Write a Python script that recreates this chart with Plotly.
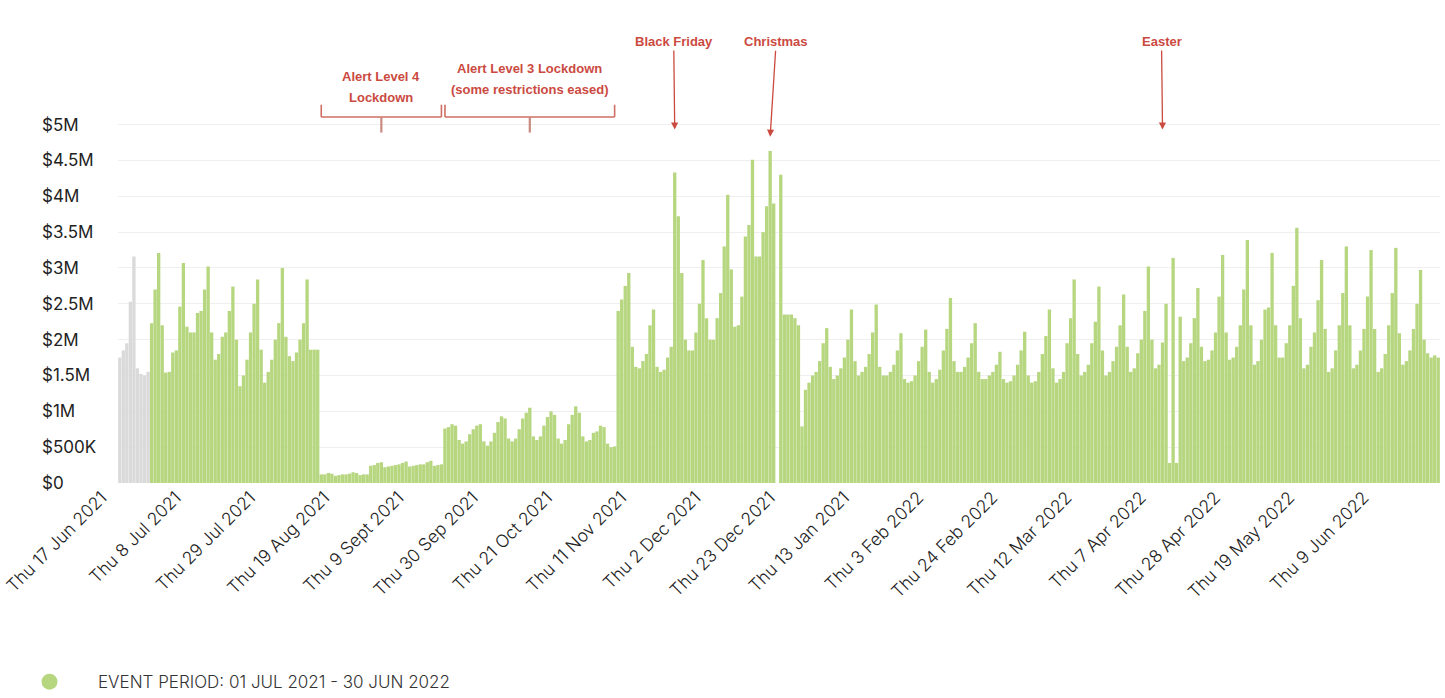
import pandas as pd
import plotly.graph_objects as go

# ---------------- data (daily sales, $M) ----------------
pre_period_values = [1.75, 1.85, 1.95, 2.53, 3.16, 1.60, 1.52, 1.50, 1.55]  # 22-30 Jun 2021

jul_2021 = [2.23, 2.70, 3.21, 2.20, 1.54, 1.55, 1.82,
            1.85, 2.46, 3.07, 2.18, 2.10, 2.10, 2.37,
            2.40, 2.70, 3.02, 2.10, 1.72, 1.80, 2.04,
            2.10, 2.40, 2.74, 2.00, 1.35, 1.50, 1.72,
            2.10, 2.50, 2.84]
aug_2021 = [1.86, 1.40, 1.55, 1.72,
            2.00, 2.23, 3.00, 2.04, 1.77, 1.70, 1.82,
            2.00, 2.23, 2.84, 1.86, 1.86, 1.86, 0.12,
            0.12, 0.14, 0.13, 0.10, 0.11, 0.12, 0.12,
            0.13, 0.15, 0.14, 0.11, 0.12, 0.12]
sep_2021 = [0.24,
            0.25, 0.28, 0.29, 0.22, 0.23, 0.24, 0.25,
            0.26, 0.28, 0.30, 0.23, 0.24, 0.25, 0.26,
            0.26, 0.29, 0.31, 0.24, 0.25, 0.26, 0.76,
            0.78, 0.82, 0.80, 0.60, 0.55, 0.58, 0.68,
            0.75]
oct_2021 = [0.80, 0.82, 0.58, 0.52, 0.58, 0.70,
            0.85, 0.93, 0.90, 0.62, 0.58, 0.62, 0.75,
            0.90, 0.98, 1.05, 0.65, 0.60, 0.65, 0.80,
            0.92, 1.00, 0.95, 0.62, 0.55, 0.60, 0.82,
            0.95, 1.07, 0.98, 0.65]
nov_2021 = [0.58, 0.60, 0.70,
            0.72, 0.80, 0.78, 0.55, 0.50, 0.51, 2.40,
            2.56, 2.75, 2.93, 1.90, 1.62, 1.60, 1.70,
            1.80, 2.20, 2.42, 1.62, 1.55, 1.58, 1.75,
            1.90, 4.33, 3.72, 2.93, 2.00, 1.85]
dec_2021 = [1.85,
            2.10, 2.50, 3.11, 2.30, 2.00, 2.00, 2.30,
            2.65, 3.30, 4.02, 2.98, 2.18, 2.20, 2.60,
            3.44, 3.60, 4.51, 3.16, 3.16, 3.50, 3.86,
            4.63, 3.90, 0.00, 4.30, 2.35, 2.35, 2.35,
            2.30, 2.20]
jan_2022 = [0.79, 1.30, 1.40, 1.50, 1.55,
            1.70, 1.95, 2.16, 1.62, 1.45, 1.50, 1.60,
            1.75, 2.00, 2.42, 1.70, 1.50, 1.55, 1.62,
            1.80, 2.10, 2.49, 1.62, 1.50, 1.50, 1.55,
            1.65, 1.85, 2.09, 1.45, 1.40]
feb_2022 = [1.42, 1.50,
            1.70, 1.90, 2.14, 1.55, 1.40, 1.45, 1.58,
            1.85, 2.15, 2.58, 1.70, 1.55, 1.55, 1.62,
            1.75, 1.95, 2.23, 1.55, 1.45, 1.45, 1.50,
            1.55, 1.65, 1.83, 1.45, 1.40]
mar_2022 = [1.42, 1.50,
            1.65, 1.85, 2.11, 1.50, 1.40, 1.42, 1.55,
            1.80, 2.05, 2.42, 1.60, 1.40, 1.45, 1.55,
            1.95, 2.30, 2.84, 1.80, 1.50, 1.55, 1.65,
            1.95, 2.25, 2.74, 1.85, 1.50, 1.55, 1.70,
            1.90]
apr_2022 = [2.20, 2.63, 1.90, 1.55, 1.60, 1.81,
            2.00, 2.40, 3.02, 2.00, 1.60, 1.65, 1.96,
            2.50, 0.28, 3.14, 0.28, 2.32, 1.70, 1.75,
            1.95, 2.30, 2.72, 1.90, 1.70, 1.72, 1.85,
            2.10, 2.60, 3.18]
may_2022 = [2.10, 1.72, 1.75, 1.90,
            2.20, 2.70, 3.39, 2.20, 1.65, 1.70, 2.00,
            2.42, 2.45, 3.21, 2.20, 1.75, 1.75, 1.95,
            2.20, 2.75, 3.56, 2.30, 1.60, 1.65, 1.90,
            2.10, 2.55, 3.11, 2.15, 1.55, 1.60]
jun_2022 = [1.85,
            2.20, 2.65, 3.30, 2.20, 1.60, 1.65, 1.85,
            2.15, 2.60, 3.25, 2.15, 1.55, 1.60, 1.80,
            2.20, 2.65, 3.28, 2.09, 1.65, 1.70, 1.85,
            2.15, 2.50, 2.97, 2.00, 1.81, 1.75, 1.78,
            1.75]

tick_labels = ["Thu 17 Jun 2021", "Thu 8 Jul 2021", "Thu 29 Jul 2021", "Thu 19 Aug 2021",
               "Thu 9 Sept 2021", "Thu 30 Sep 2021", "Thu 21 Oct 2021", "Thu 11 Nov 2021",
               "Thu 2 Dec 2021", "Thu 23 Dec 2021", "Thu 13 Jan 2021", "Thu 3 Feb 2022",
               "Thu 24 Feb 2022", "Thu 12 Mar 2022", "Thu 7 Apr 2022", "Thu 28 Apr 2022",
               "Thu 19 May 2022", "Thu 9 Jun 2022"]
y_tick_values = [0, 500000, 1000000, 1500000, 2000000, 2500000, 3000000, 3500000, 4000000, 4500000, 5000000]
y_tick_labels = ["$0", "$500K", "$1M", "$1.5M", "$2M", "$2.5M", "$3M", "$3.5M", "$4M", "$4.5M", "$5M"]

event_names = ["Black Friday", "Christmas", "Easter"]
event_days = ["2021-11-26", "2021-12-23", "2022-04-13"]
event_tips = [4.93e6, 4.83e6, 4.93e6]

lockdown_lines = [["Alert Level 4", "Lockdown"], ["Alert Level 3 Lockdown", "(some restrictions eased)"]]
lockdown_starts = ["2021-08-18", "2021-09-22"]
lockdown_ends = ["2021-09-21", "2021-11-09"]

legend_label = "EVENT PERIOD: 01 JUL 2021 - 30 JUN 2022"

# ---------------- build ----------------
GREEN = "#b6d67f"
GREY = "#dadada"
RED = "#cb4a3f"
FONT = "Inter"

event_values = sum([jul_2021, aug_2021, sep_2021, oct_2021, nov_2021, dec_2021,
                    jan_2022, feb_2022, mar_2022, apr_2022, may_2022, jun_2022], [])
event_dates = pd.date_range("2021-07-01", "2022-06-30", freq="D")
pre_dates = pd.date_range("2021-06-22", "2021-06-30", freq="D")
assert len(event_values) == len(event_dates)
tick_dates = pd.date_range("2021-06-22", periods=len(tick_labels), freq="21D")

fig = go.Figure()
fig.add_trace(go.Bar(x=pre_dates, y=[v * 1e6 for v in pre_period_values],
                     marker=dict(color=GREY, line=dict(width=0)), showlegend=False,
                     hoverinfo="skip"))
fig.add_trace(go.Bar(x=event_dates, y=[v * 1e6 for v in event_values],
                     marker=dict(color=GREEN, line=dict(width=0)), showlegend=False))
fig.add_trace(go.Scatter(x=[None], y=[None], mode="markers", name=legend_label,
                         marker=dict(size=21, color=GREEN, symbol="circle"), showlegend=True))

annotations = []
for v, t in zip(y_tick_values, y_tick_labels):
    annotations.append(dict(x=-0.059, xref="paper", y=v, yref="y", text=t, showarrow=False,
                            xanchor="left", yanchor="middle",
                            font=dict(family=FONT, size=17, color="#222222")))

for name, d, tip in zip(event_names, event_days, event_tips):
    annotations.append(dict(x=d, xref="x", y=tip, yref="y", text="<b>%s</b>" % name,
                            showarrow=True, arrowhead=2, arrowsize=1.1, arrowwidth=1.3,
                            arrowcolor=RED, ax=(6 if name == "Christmas" else -1),
                            ay=(-95 if name == "Christmas" else -88),
                            font=dict(family="Liberation Sans", size=13, color=RED)))

shapes = []
line_style = dict(color="#cf6e62", width=1.6)
text_rows = [[1.124, 1.066], [1.144, 1.088]]
for lines, s, e, rows in zip(lockdown_lines, lockdown_starts, lockdown_ends, text_rows):
    mid = pd.Timestamp(s) + (pd.Timestamp(e) - pd.Timestamp(s)) / 2
    shapes.append(dict(type="line", xref="x", yref="paper", x0=s, x1=e, y0=1.011, y1=1.011, line=line_style))
    shapes.append(dict(type="line", xref="x", yref="paper", x0=s, x1=s, y0=1.011, y1=1.045, line=line_style))
    shapes.append(dict(type="line", xref="x", yref="paper", x0=e, x1=e, y0=1.011, y1=1.045, line=line_style))
    shapes.append(dict(type="line", xref="x", yref="paper", x0=mid, x1=mid, y0=1.011, y1=0.968,
                       line=dict(color="#c98a80", width=2.2)))
    for txt, yy in zip(lines, rows):
        annotations.append(dict(x=mid, xref="x", y=yy, yref="paper", text="<b>%s</b>" % txt,
                                showarrow=False, xanchor="center", yanchor="middle",
                                font=dict(family="Liberation Sans", size=13, color=RED)))

fig.update_layout(
    width=1445, height=698,
    margin=dict(l=118, r=5, t=121, b=215, autoexpand=False),
    paper_bgcolor="white", plot_bgcolor="white",
    bargap=0.06,
    showlegend=True,
    legend=dict(orientation="h", x=-0.0885, xanchor="left", y=-0.55, yanchor="middle",
                font=dict(family=FONT, size=17, color="#333333", weight=300),
                itemwidth=87),
    xaxis=dict(type="date", range=["2021-06-21 12:00", "2022-06-30 12:00"],
               tickvals=tick_dates, ticktext=tick_labels, tickangle=-45,
               ticklabelshift=-18, ticklabeloverflow="allow", automargin=False,
               showgrid=False, zeroline=False, showline=False, ticks="",
               tickfont=dict(family=FONT, size=17.5, color="#222222", weight=300)),
    yaxis=dict(range=[0, 5.05e6], tickvals=y_tick_values, showticklabels=False,
               automargin=False,
               showgrid=True, gridcolor="#efefef", gridwidth=1, zeroline=False, ticks=""),
    annotations=annotations,
    shapes=shapes,
)

fig.write_html("out.html")
